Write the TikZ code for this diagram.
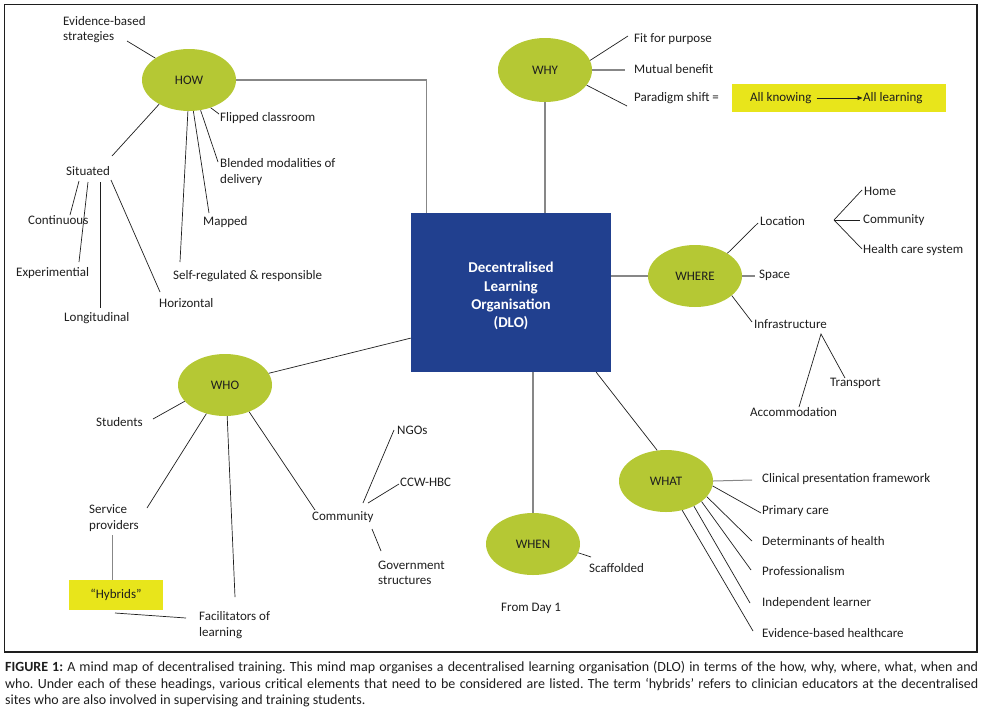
\documentclass[tikz,border=0pt]{standalone}
\usepackage{fontspec}
\setmainfont{Carlito}
\usetikzlibrary{shapes.geometric,calc,arrows.meta}
\definecolor{ellgreen}{RGB}{181,200,52}
\definecolor{dloblue}{RGB}{33,64,143}
\definecolor{hiyel}{RGB}{232,229,27}
\definecolor{lgray}{RGB}{135,135,135}
\definecolor{ink}{RGB}{30,30,30}
\frenchspacing
\begin{document}
\begin{tikzpicture}[x=1pt,y=-1pt,
  lbl/.style={anchor=west,inner sep=0pt,font=\fontsize{13}{15.5}\selectfont,align=left,text=ink},
  hub/.style={ellipse,fill=ellgreen,minimum width=94pt,minimum height=62pt,inner sep=0pt,font=\fontsize{13}{15.5}\selectfont,text=ink},
  gline/.style={draw=lgray,line width=1.3pt},
  bline/.style={draw=ink,line width=0.7pt},
  ybox/.style={fill=hiyel,inner sep=0pt},
  capt/.style={anchor=base west,inner sep=0pt,font=\fontsize{14}{16}\selectfont,text=ink}
]
\useasboundingbox (0,0) rectangle (982,710);
% frame
\draw[line width=1.2pt,draw=ink] (4.5,4.5) rectangle (977,652);

% central box
\node[fill=dloblue,minimum width=200pt,minimum height=159pt,inner sep=0pt,
      text=white,align=center,font=\bfseries\fontsize{15}{18.3}\selectfont] (dlo) at (511,292.5)
      {\rule{0pt}{18pt}Decentralised\\Learning\\Organisation\\(DLO)};

% hubs
\node[hub] (how) at (189,80) {HOW};
\node[hub,minimum height=64pt] (why) at (545,70) {WHY};
\node[hub] (where) at (695,276) {WHERE};
\node[hub] (what) at (666,481) {WHAT};
\node[hub] (when) at (533,544) {WHEN};
\node[hub] (who) at (225,385) {WHO};

% hub to centre
\draw[gline] (how.east) -| ([xshift=16pt]dlo.north west);
\draw[gline] (why.south) -- (why.south |- dlo.north);
\draw[gline] (where.west) -- (where.west -| dlo.east);
\draw[gline] (when.north) -- (when.north |- dlo.south);
\draw[bline] ([xshift=-15pt]dlo.south east) -- (what.106);
\draw[bline] (who.15) -- ($(dlo.south west)!0.214!(dlo.north west)$);

% HOW
\node[lbl] (evb) at (63,29.5) {Evidence-based\\strategies};
\node[lbl] (flip) at (220,118) {Flipped classroom};
\node[lbl] (blend) at (220,172) {Blended modalities of\\delivery};
\node[lbl] (mapped) at (203,222) {Mapped};
\node[lbl] (selfreg) at (173,276) {Self-regulated \& responsible};
\node[lbl] (situated) at (66,171) {Situated};
\node[lbl] (cont) at (28,220) {Continuous};
\node[lbl] (exper) at (16,273) {Experimential};
\node[lbl] (longi) at (64,318) {Longitudinal};
\node[lbl] (horiz) at (159,303) {Horizontal};
\coordinate (evbE) at (127,41);
\coordinate (flipE) at (219,114);
\coordinate (blendE) at (218,162);
\coordinate (mapE) at (209,213);
\coordinate (selfE) at (180,262);
\coordinate (sitE) at (112,156);
\draw[bline] (how.147) -- (evbE);
\draw[bline] (how.-52) -- (flipE);
\draw[bline] (how.-69) -- (blendE);
\draw[bline] (how.-82) -- (mapE);
\draw[bline] (how.-92) -- (selfE);
\draw[bline] (how.-141) -- (sitE);
\coordinate (s1) at (79,181);  \coordinate (c1) at (70,215);
\coordinate (s2) at (88,182);  \coordinate (c2) at (79,262);
\coordinate (s3) at (100,182); \coordinate (c3) at (100,308);
\coordinate (s4) at (111,180); \coordinate (c4) at (160,292);
\draw[bline] (s1) -- (c1);
\draw[bline] (s2) -- (c2);
\draw[bline] (s3) -- (c3);
\draw[bline] (s4) -- (c4);

% WHY
\node[lbl] (fit) at (634,39) {Fit for purpose};
\node[lbl] (mutual) at (634,69) {Mutual benefit};
\node[lbl] (paradigm) at (634,98) {Paradigm shift =};
\node[ybox,minimum width=214pt,minimum height=28pt] (shiftbox) at (839,98) {};
\node[lbl] (knowing) at (750,98) {All knowing};
\node[lbl] (learning) at (863,98) {All learning};
\draw[draw=ink,line width=0.8pt,-{Triangle[length=5pt,width=4pt]},shorten <=5pt,shorten >=0.5pt] (knowing) -- (learning);
\coordinate (fitE) at (628,36);
\coordinate (mutE) at (625,70);
\coordinate (parE) at (627,106);
\draw[bline] (why.12) -- (fitE);
\draw[gline] (why.east) -- (mutE);
\draw[bline] (why.-20) -- (parE);

% WHERE
\node[lbl] (location) at (760,221) {Location};
\node[lbl] (space) at (759,275) {Space};
\node[lbl] (infra) at (754,324) {Infrastructure};
\node[lbl] (home) at (864,191) {Home};
\node[lbl] (commw) at (863,220) {Community};
\node[lbl] (health) at (863,250) {Health care system};
\node[lbl] (transport) at (830,383) {Transport};
\node[lbl] (accom) at (750,412) {Accommodation};
\coordinate (locE) at (758,223);
\coordinate (spaE) at (755,276);
\coordinate (infE) at (752,322);
\draw[bline] (where.35) -- (locE);
\draw[gline] (where.east) -- (spaE);
\draw[bline] (where.-28) -- (infE);
\coordinate (locJ) at (834,220);
\coordinate (homeE) at (862,190);
\coordinate (commE) at (860,220);
\coordinate (healthE) at (862,249);
\draw[bline] (homeE) -- (locJ) -- (healthE);
\draw[bline] (locJ) -- (commE);
\coordinate (infJ) at (821,334);
\coordinate (transE) at (845,378);
\coordinate (accE) at (799,407);
\draw[bline] (accE) -- (infJ) -- (transE);

% WHAT
\node[lbl] (clinical) at (762,479) {Clinical presentation framework};
\node[lbl] (primary) at (762,511) {Primary care};
\node[lbl] (determ) at (762,541) {Determinants of health};
\node[lbl] (prof) at (762,571) {Professionalism};
\node[lbl] (indep) at (762,603) {Independent learner};
\node[lbl] (evhc) at (762,633) {Evidence-based healthcare};
\coordinate (cliE) at (752,480);
\coordinate (priE) at (761,513);
\coordinate (detE) at (752,541);
\coordinate (proE) at (751,570);
\coordinate (indE) at (750,603);
\coordinate (evhE) at (753,631);
\draw[gline,line width=1pt] (what.east) -- (cliE);
\draw[bline] (what.-6) -- (priE);
\draw[bline] (what.-21) -- (detE);
\draw[bline] (what.-30) -- (proE);
\draw[bline] (what.-42) -- (indE);
\draw[bline] (what.-61) -- (evhE);

% WHEN
\node[lbl] (scaff) at (589,568) {Scaffolded};
\node[lbl] (fromday) at (501,608) {From Day 1};
\coordinate (scaE) at (591,557);
\draw[bline] (when.-11) -- (scaE);

% WHO
\node[lbl] (students) at (96,422) {Students};
\node[lbl] (service) at (89,518) {Service\\providers};
\node[ybox,minimum width=94pt,minimum height=30pt,font=\fontsize{13}{15.5}\selectfont,text=ink] (hybrids) at (116,595) {“Hybrids”};
\node[lbl] (facil) at (199,625) {Facilitators of\\learning};
\node[lbl] (community) at (312,517) {Community};
\node[lbl] (ngos) at (397,430) {NGOs};
\node[lbl] (ccw) at (400,482) {CCW-HBC};
\node[lbl] (govt) at (378,573) {Government\\structures};
\coordinate (stuE) at (153,419);
\coordinate (serE) at (147,508);
\coordinate (facE) at (235,597);
\coordinate (comE) at (315,510);
\draw[bline] (who.202) -- (stuE);
\draw[bline] (who.237) -- (serE);
\draw[bline] (who.-86) -- (facE);
\draw[bline] (who.-48) -- (comE);
\coordinate (serB) at (112,535);
\draw[gline,line width=1pt] (serB) -- (serB |- hybrids.north);
\coordinate (hybB) at (115,613);
\coordinate (facW) at (186,618);
\draw[bline] (hybB) -- (facW);
\coordinate (cj1) at (363,503); \coordinate (ngoE) at (394,430);
\coordinate (cj2) at (368,503); \coordinate (ccwE) at (399,484);
\coordinate (cj3) at (372,529); \coordinate (govE) at (381,551);
\draw[bline] (cj1) -- (ngoE);
\draw[bline] (cj2) -- (ccwE);
\draw[bline] (cj3) -- (govE);

% caption
\node[capt] (cap1) at (5,671) {\makebox[973pt][s]{\textbf{FIGURE 1:} A mind map of decentralised training. This mind map organises a decentralised learning organisation (DLO) in terms of the how, why, where, what, when and}};
\node[capt] (cap2) at (5,688) {\makebox[973pt][s]{who. Under each of these headings, various critical elements that need to be considered are listed. The term ‘hybrids’ refers to clinician educators at the decentralised}};
\node[capt] (cap3) at (5,704) {sites who are also involved in supervising and training students.};
\end{tikzpicture}
\end{document}
